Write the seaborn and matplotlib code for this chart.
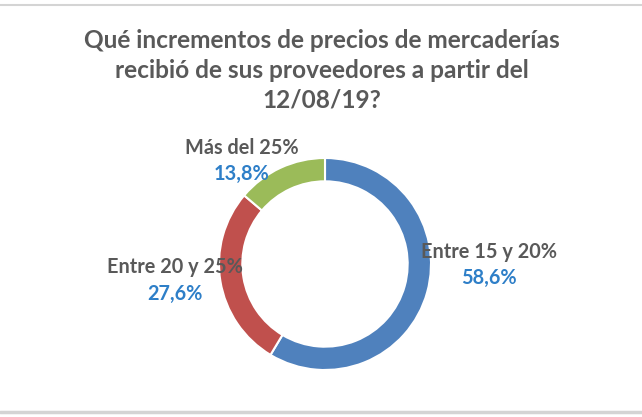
import matplotlib
matplotlib.use("Agg")
import matplotlib.pyplot as plt
import seaborn as sns

# Data
categories = ["Entre 15 y 20%", "Entre 20 y 25%", "Más del 25%"]
values = [58.6, 27.6, 13.8]
value_labels = ["58,6%", "27,6%", "13,8%"]
title_lines = ["Qué incrementos de precios de mercaderías",
               "recibió de sus proveedores a partir del",
               "12/08/19?"]

sns.set_theme(style="white")
plt.rcParams['font.family'] = ['Lato', 'DejaVu Sans']

colors = ["#4F81BD", "#C0504D", "#9BBB59"]
W, H = 642, 417
fig = plt.figure(figsize=(W / 100, H / 100), dpi=100)
fig.patch.set_facecolor("white")

def fx(px):
    return px / W

def fy(py):
    return 1 - py / H

# frame lines
fig.add_artist(plt.Line2D([0, 1], [fy(5), fy(5)], color="#D4D4D4", lw=1.5))
fig.add_artist(plt.Line2D([0, 1], [fy(411.5), fy(411.5)], color="#D4D4D4", lw=2.5))

# donut
cx, cy, R = 325, 264, 106
ax = fig.add_axes([fx(cx - R), fy(cy + R), (2 * R) / W, (2 * R) / H])
ax.pie(values, colors=colors, startangle=90, counterclock=False,
       wedgeprops=dict(width=0.22, edgecolor="white", linewidth=1.5))
ax.set_xlim(-1, 1)
ax.set_ylim(-1, 1)
ax.set_aspect("equal")
ax.axis("off")

# title
title_color = "#595959"
for txt, y in zip(title_lines, [40, 71, 100]):
    fig.text(fx(322), fy(y), txt, ha="center", va="center", fontsize=17.6,
             fontweight="bold", color=title_color)

# labels
label_pos = [(489, 252, 278), (175, 267, 294), (242, 148, 174)]
pct_color = "#2E7FC8"
for cat, pl, (x, y1, y2) in zip(categories, value_labels, label_pos):
    fig.text(fx(x), fy(y1), cat, ha="center", va="center", fontsize=14.3,
             fontweight="bold", color=title_color)
    fig.text(fx(x), fy(y2), pl, ha="center", va="center", fontsize=14.3,
             fontweight="bold", color=pct_color)

fig.savefig("out.png", dpi=100, facecolor="white")
